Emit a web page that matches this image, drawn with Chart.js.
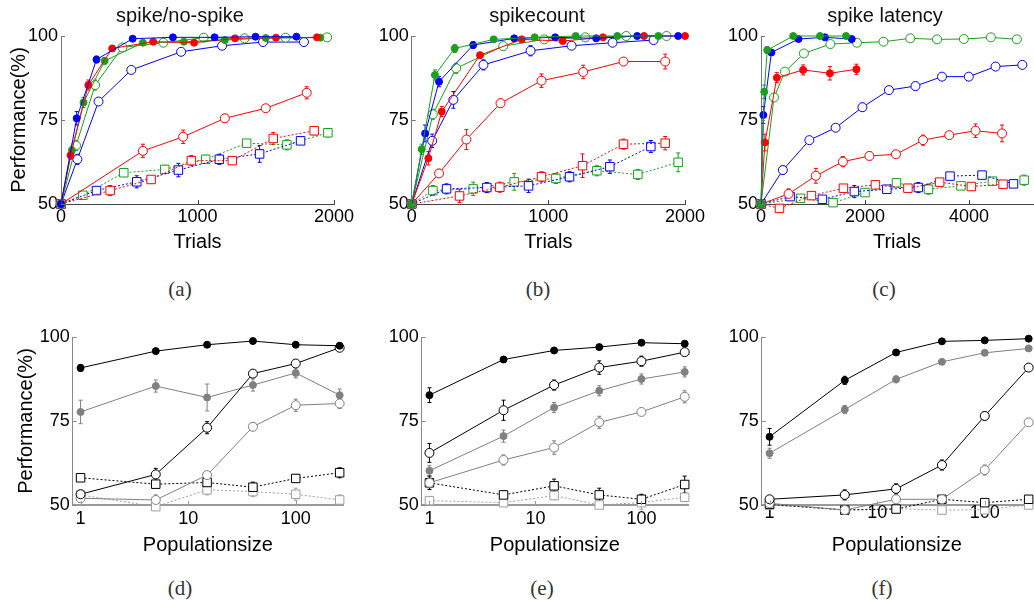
<!DOCTYPE html>
<html><head><meta charset="utf-8">
<script src="https://cdn.jsdelivr.net/npm/chart.js@4.4.1/dist/chart.umd.min.js"></script>
<style>
html,body{margin:0;padding:0;background:#fff;width:1034px;height:600px;overflow:hidden;position:relative;font-family:'Liberation Sans',Arial,sans-serif}
canvas{position:absolute}
.t{position:absolute;transform:translate(-50%,-50%);font-size:20px;line-height:1;white-space:nowrap;color:#111}
.s{position:absolute;transform:translate(-50%,-50%);font-family:'Liberation Serif','DejaVu Serif',serif;font-size:21px;line-height:1;color:#333}
</style></head><body>
<canvas id="ca" width="360" height="254" style="left:0;top:0"></canvas>
<canvas id="cb" width="360" height="254" style="left:350px;top:0"></canvas>
<canvas id="cc" width="340" height="254" style="left:700px;top:0"></canvas>
<canvas id="cd" width="350" height="247" style="left:0;top:310px"></canvas>
<canvas id="ce" width="345" height="247" style="left:350px;top:310px"></canvas>
<canvas id="cf" width="345" height="247" style="left:695px;top:310px"></canvas>
<div class="t" style="left:180px;top:15px">spike/no-spike</div>
<div class="t" style="left:537px;top:15px">spikecount</div>
<div class="t" style="left:885px;top:15px">spike latency</div>
<div class="s" style="left:180px;top:289px">(a)</div>
<div class="s" style="left:538px;top:289px">(b)</div>
<div class="s" style="left:884px;top:289px">(c)</div>
<div class="s" style="left:180px;top:588px">(d)</div>
<div class="s" style="left:542px;top:588px">(e)</div>
<div class="s" style="left:882px;top:588px">(f)</div>
<script>
// ---------- tick labels ----------
const perfTicks = [50, 75, 100];
const trialTicksAB = [0, 1000, 2000];
const trialTicksC = [0, 2000, 4000];
const popTicks = [1, 10, 100];

// ---------- (a) spike/no-spike : [trials, performance, error] ----------
const aBlueFilled  = [[0,50,0],[115,75.5,2],[260,93,1],[525,99.2,0.5],[820,99.6,0.4],[1125,99.6,0.4],[1425,99.8,0.3],[1725,99.8,0.3]];
const aRedFilled   = [[0,50,0],[70,64.5,1.2],[200,85.4,1.5],[375,96.3,0.8],[675,98.3,0.6],[975,98,0.6],[1275,99.3,0.5],[1575,99.5,0.4],[1875,99.6,0.3]];
const aGreenFilled = [[0,50,0],[80,66,1.2],[165,80.2,1.5],[320,92.6,1],[600,98,0.6],[900,98.3,0.5],[1200,98.8,0.4],[1500,99.4,0.3],[1900,99.5,0.3]];
const aGreenOpen   = [[0,50,0],[110,67.4,1.5],[250,85.4,1.5],[450,96.6,1],[750,98,0.6],[1045,99.5,0.4],[1345,99.3,0.4],[1645,99.5,0.3],[1950,99.6,0.3]];
const aBlueOpen    = [[0,50,0],[120,63.3,1.5],[275,80.5,0.8],[515,89.9,0.8],[880,95.3,0.6],[1180,97.1,0.5],[1480,98.2,0.4],[1780,98.2,0.4]];
const aRedOpen     = [[0,50,0],[600,65.8,2],[895,70,2],[1200,75.5,1.2],[1500,78.5,0.8],[1800,83.1,1.8]];
const aRedSq       = [[0,50,0],[360,54,1.5],[660,57.3,0.8],[955,62.9,1.5],[1255,62.9,1],[1555,69.5,1.8],[1855,71.8,1.2]];
const aBlueSq      = [[0,50,0],[260,54,1],[555,56.6,1.8],[860,60.1,2],[1160,63.3,1.5],[1455,64.9,2.5],[1755,68.8,1]];
const aGreenSq     = [[0,50,0],[160,52.6,1],[460,59.3,1],[760,60.3,1.2],[1060,63.3,1.2],[1360,68.1,0.8],[1655,67.6,1.5],[1955,71.2,1.2]];

// ---------- (b) spikecount ----------
const bGreenFilled = [[0,50,0],[73,66.3,1.5],[170,88.4,1.5],[315,96.3,1.2],[600,99,0.5],[900,99.6,0.4],[1200,100,0.3],[1505,100,0.3],[1805,100,0.3]];
const bBlueFilled  = [[0,50,0],[98,71,2.5],[200,86.4,1.5],[450,97.3,1],[750,99.3,0.5],[1050,99.6,0.4],[1350,99.3,0.5],[1650,100,0.3],[1950,100,0.3]];
const bRedFilled   = [[0,50,0],[122,63.6,2],[220,77.5,1.5],[500,94.3,0.8],[805,99,0.5],[1105,98.5,0.5],[1400,99.6,0.3],[1700,100,0.3],[2000,100,0.3]];
const bGreenOpen   = [[0,50,0],[155,76.7,1.5],[325,90.4,1.5],[670,97,0.8],[970,99,0.5],[1270,99.6,0.3],[1570,100,0.3],[1865,100,0.3]];
const bBlueOpen    = [[0,50,0],[150,68.8,2],[305,81,2.5],[525,91.4,1.5],[870,95.6,1.5],[1170,97.1,0.6],[1470,98,0.5],[1770,98.8,0.4]];
const bRedOpen     = [[0,50,0],[200,59.1,1.2],[400,69.2,3],[650,80,1.2],[950,86.7,2],[1255,89.3,2],[1550,92.4,1],[1855,92.4,2.2]];
const bRedSq       = [[0,50,0],[350,52.4,2],[645,55,1.5],[950,58.1,1.5],[1250,61.4,3.5],[1550,67.8,1.5],[1855,68.1,2]];
const bBlueSq      = [[0,50,0],[255,54.5,1.5],[550,54.9,1.5],[855,55.4,2],[1155,58.1,1.5],[1450,61.1,2],[1750,67.1,1.8]];
const bGreenSq     = [[0,50,0],[155,54,1.5],[450,54.5,2],[750,56.6,2.5],[1055,57.6,1.5],[1355,59.9,1.5],[1655,58.8,1.5],[1950,62.4,2.8]];

// ---------- (c) spike latency ----------
const cGreenFilled = [[0,50,0],[62,83.4,2],[120,95.8,1],[620,100,0.3],[1135,100,0.3],[1635,100,0.3]];
const cBlueFilled  = [[0,50,0],[45,76.5,2.5],[200,95.1,0.8],[720,99.1,0.5],[1230,99.6,0.4],[1745,99.1,0.5]];
const cRedFilled   = [[0,50,0],[75,68.3,2.5],[305,87.6,1.5],[810,89.9,1.5],[1325,88.9,2],[1835,90.1,1.5]];
const cGreenOpen   = [[0,50,0],[250,81.7,1],[460,89.4,0.8],[825,94.8,0.6],[1335,97.6,0.5],[1845,98,0.5],[2355,98.3,0.4],[2870,99.3,0.3],[3385,99,0.3],[3900,99.1,0.3],[4420,99.6,0.3],[4920,99,0.3]];
const cBlueOpen    = [[0,50,0],[420,60.1,1.2],[930,69,1],[1435,72.7,1],[1950,78.8,1.2],[2460,83.9,0.6],[2970,85.1,1.2],[3480,87.9,1],[3995,87.9,0.5],[4510,90.9,0.5],[5025,91.4,0.5]];
const cRedOpen     = [[0,50,0],[530,53,1.5],[1055,58.4,2.2],[1575,62.6,1.5],[2085,64.3,1.2],[2595,64.8,1],[3115,69,1.5],[3620,70.5,0.8],[4125,71.8,2],[4635,71,2.5]];
const cRedSq       = [[0,50,0],[355,48.7,1],[970,52.5,1],[1585,54.7,1],[2200,55.7,0.8],[2825,54.7,0.8],[3435,56.5,0.8],[4045,55.2,1],[4655,55.9,1]];
const cBlueSq      = [[0,50,0],[560,52.2,0.8],[1180,51.4,0.5],[1795,53.7,1.8],[2420,54.4,0.8],[3025,54.9,1.5],[3635,58.3,0.5],[4250,58.6,0.5],[4855,56,0.5]];
const cGreenSq     = [[0,50,0],[760,51.7,0.5],[1385,50.4,0.8],[2000,53.4,1],[2605,56.3,0.8],[3220,54.4,1.5],[3845,55.4,0.8],[4450,56.8,0.5],[5060,57.1,1.5]];

// ---------- (d)(e)(f) population size ----------
const popSizes = [1, 5, 15, 40, 100, 256];
const dBlackFilled = [90.8,95.8,97.7,98.8,97.7,97.4], dBlackFilledErr = [1,0.5,0.5,0.5,0.5,0.5];
const dBlackOpen   = [53.2,59.1,73,89.1,92.1,96.8],   dBlackOpenErr   = [1,1.8,1.8,1,0.8,0.5];
const dGrayFilled  = [77.7,85.4,82,85.7,89.3,82.7],   dGrayFilledErr  = [3.5,1.8,4,1.8,1.5,1.8];
const dGrayOpen    = [52,51.5,58.9,73.3,79.7,80.2],   dGrayOpenErr    = [1,1.5,1,1.2,1.8,1.5];
const dBlackSq     = [58.1,56.2,56.7,55.3,57.9,59.6], dBlackSqErr     = [1,1,1.5,1.5,1,1.5];
const dGraySq      = [53,49.5,54.5,54,53.2,51.5],     dGraySqErr      = [1.5,1,1.5,1.5,1.8,1.5];

const eBlackFilled = [82.7,93.3,96,97,98.3,98],       eBlackFilledErr = [2.2,0.8,0.5,0.5,0.4,0.8];
const eBlackOpen   = [65.5,78.2,85.7,90.9,92.8,95.5], eBlackOpenErr   = [2.8,3,1.5,2,1.5,1];
const eGrayFilled  = [60.2,70.5,79,84,87.5,89.6],     eGrayFilledErr  = [1.5,1.8,1.5,1.5,1.5,1.5];
const eGrayOpen    = [56.6,63.4,67.1,74.6,77.7,82.2], eGrayOpenErr    = [1.5,1.5,2,1.8,1,1.8];
const eBlackSq     = [56.6,53,55.7,53,51.7,56.1],     eBlackSqErr     = [2,1.2,2,2,1.5,2.5];
const eGraySq      = [51.3,50.7,52.8,50,50.7,52.3],   eGraySqErr      = [1.2,0.8,1.2,0.8,2,1];

const fBlackFilled = [70.3,87.1,95.4,98.7,99,99.5],   fBlackFilledErr = [2.5,1.2,0.5,0.3,0.3,0.3];
const fGrayFilled  = [65.4,78.4,87.4,92.6,95.3,96.6], fGrayFilledErr  = [1.5,1.2,1,0.5,0.5,0.5];
const fBlackOpen   = [51.7,53,54.8,61.9,76.5,90.9],   fBlackOpenErr   = [1,1.5,1.5,1.5,1.2,0.5];
const fGrayOpen    = [50.5,48.5,51.7,51.7,60.4,74.6], fGrayOpenErr    = [1,1,0.5,0.8,1.5,0.5];
const fBlackSq     = [50.2,48.5,48.8,51.7,50.7,51.7], fBlackSqErr     = [1,1,0.8,1.2,0.8,0.8];
const fGraySq      = [50,48.6,48.9,48.5,48.6,50],     fGraySqErr      = [0.5,0.5,0.5,0.5,0.5,0.5];

// ---------- styling ----------
const BLUE = '#0000ff', RED = '#ff0000', GREEN = '#19a019', BLACK = '#000000', GRAY = '#808080', LGRAY = '#a0a0a0';
const FONT = "'Liberation Sans', Arial, sans-serif";

function series(points, errs, color, kind, dashed) {
  return {
    data: points, errs,
    borderColor: color, borderWidth: 1,
    borderDash: dashed ? [2, 2] : [],
    pointStyle: kind === 'square' ? 'rect' : 'circle',
    pointRadius: kind === 'filled' ? 3.5 : (kind === 'open' ? 4.5 : 6),
    pointHoverRadius: kind === 'filled' ? 3.5 : (kind === 'open' ? 4.5 : 6),
    pointBorderWidth: 1,
    pointBorderColor: color,
    pointBackgroundColor: kind === 'filled' ? color : '#ffffff',
    fill: false, tension: 0, clip: false
  };
}
const fromTriples = (arr, color, kind, dashed) =>
  series(arr.map(r => ({x: r[0], y: r[1]})), arr.map(r => r[2]), color, kind, dashed);
const fromPop = (vals, errs, color, kind, dashed) =>
  series(vals.map((v, i) => ({x: popSizes[i], y: v})), errs, color, kind, dashed);

const errorBars = {
  id: 'errorBars',
  beforeDatasetsDraw(chart) {
    const ctx = chart.ctx, ys = chart.scales.y;
    chart.data.datasets.forEach((ds, i) => {
      if (!ds.errs) return;
      const meta = chart.getDatasetMeta(i);
      ctx.save();
      ctx.strokeStyle = ds.borderColor; ctx.lineWidth = 1;
      meta.data.forEach((pt, j) => {
        const e = ds.errs[j]; if (!e) return;
        const v = ds.data[j].y;
        const y1 = ys.getPixelForValue(v + e), y2 = ys.getPixelForValue(v - e);
        ctx.beginPath();
        ctx.moveTo(pt.x, y1); ctx.lineTo(pt.x, y2);
        ctx.moveTo(pt.x - 2, y1); ctx.lineTo(pt.x + 2, y1);
        ctx.moveTo(pt.x - 2, y2); ctx.lineTo(pt.x + 2, y2);
        ctx.stroke();
      });
      ctx.restore();
    });
  }
};
const inTicks = {
  id: 'inTicks',
  afterDraw(chart, args, opts) {
    const {ctx, chartArea: a, scales: {x, y}} = chart;
    ctx.save(); ctx.lineWidth = 1;
    ctx.strokeStyle = opts.xColor;
    x.ticks.forEach(t => { const p = Math.round(x.getPixelForValue(t.value)) + 0.5; ctx.beginPath(); ctx.moveTo(p, a.bottom); ctx.lineTo(p, a.bottom - 4); ctx.stroke(); });
    ctx.strokeStyle = opts.yColor;
    y.ticks.forEach(t => { const p = Math.round(y.getPixelForValue(t.value)) + 0.5; ctx.beginPath(); ctx.moveTo(a.left, p); ctx.lineTo(a.left + 4, p); ctx.stroke(); });
    ctx.restore();
  }
};

function makeChart(id, c) {
  return new Chart(document.getElementById(id), {
    type: 'line',
    data: {datasets: c.datasets},
    plugins: [errorBars, inTicks],
    options: {
      responsive: false, animation: false, devicePixelRatio: 1, events: [],
      layout: {padding: {left: c.pl, right: c.pr, top: c.pt, bottom: 0}},
      plugins: {legend: {display: false}, tooltip: {enabled: false},
                inTicks: {xColor: c.xBorder, yColor: c.yBorder}},
      scales: {
        x: {
          type: c.xType, min: c.xMin, max: c.xMax,
          afterBuildTicks: s => { s.ticks = c.xTicks.map(v => ({value: v})); },
          afterFit: s => { s.height = c.xH; },
          grid: {display: false, drawTicks: false},
          border: {display: true, color: c.xBorder, width: c.xBorderW},
          ticks: {color: '#000', font: {family: FONT, size: 18}, padding: c.xTickPad, maxRotation: 0, autoSkip: false,
                  callback: v => String(v)},
          title: {display: true, text: c.xTitle, color: '#000', font: {family: FONT, size: 20}, padding: 0}
        },
        y: {
          type: 'linear', min: 50, max: 100,
          afterBuildTicks: s => { s.ticks = perfTicks.map(v => ({value: v})); },
          afterFit: s => { s.width = c.yW; },
          grid: {display: false, drawTicks: false},
          border: {display: true, color: c.yBorder, width: 1},
          ticks: {color: '#000', font: {family: FONT, size: 18}, padding: 3, callback: v => String(v)},
          title: {display: !!c.yTitle, text: c.yTitle || '', color: '#000', font: {family: FONT, size: 20}, padding: 0}
        }
      }
    }
  });
}

const topCommon = {xType: 'linear', xMin: 0, xH: 50, pt: 36, xBorder: '#444', yBorder: '#777', xBorderW: 1, xTickPad: 2, xTitle: 'Trials'};
const botCommon = {xType: 'logarithmic', xMin: 0.845, xMax: 275, xTicks: popTicks, xH: 52, pt: 27, xBorder: '#9a9a9a', yBorder: '#8a8a8a', xBorderW: 2, xTitle: 'Populationsize'};

makeChart('ca', Object.assign({}, topCommon, {
  xMax: 2000, xTicks: trialTicksAB, pl: 7, yW: 54, pr: 26, yTitle: 'Performance(%)',
  datasets: [
    fromTriples(aBlueFilled, BLUE, 'filled'), fromTriples(aRedFilled, RED, 'filled'), fromTriples(aGreenFilled, GREEN, 'filled'),
    fromTriples(aGreenOpen, GREEN, 'open'), fromTriples(aBlueOpen, BLUE, 'open'), fromTriples(aRedOpen, RED, 'open'),
    fromTriples(aRedSq, RED, 'square', true), fromTriples(aBlueSq, BLUE, 'square', true), fromTriples(aGreenSq, GREEN, 'square', true)
  ]}));
makeChart('cb', Object.assign({}, topCommon, {
  xMax: 2000, xTicks: trialTicksAB, pl: 0, yW: 61.7, pr: 25,
  datasets: [
    fromTriples(bGreenFilled, GREEN, 'filled'), fromTriples(bBlueFilled, BLUE, 'filled'), fromTriples(bRedFilled, RED, 'filled'),
    fromTriples(bGreenOpen, GREEN, 'open'), fromTriples(bBlueOpen, BLUE, 'open'), fromTriples(bRedOpen, RED, 'open'),
    fromTriples(bRedSq, RED, 'square', true), fromTriples(bBlueSq, BLUE, 'square', true), fromTriples(bGreenSq, GREEN, 'square', true)
  ]}));
makeChart('cc', Object.assign({}, topCommon, {
  xMax: 5230, xTicks: trialTicksC, pl: 0, yW: 61, pr: 0,
  datasets: [
    fromTriples(cGreenFilled, GREEN, 'filled'), fromTriples(cBlueFilled, BLUE, 'filled'), fromTriples(cRedFilled, RED, 'filled'),
    fromTriples(cGreenOpen, GREEN, 'open'), fromTriples(cBlueOpen, BLUE, 'open'), fromTriples(cRedOpen, RED, 'open'),
    fromTriples(cRedSq, RED, 'square', true), fromTriples(cBlueSq, BLUE, 'square', true), fromTriples(cGreenSq, GREEN, 'square', true)
  ]}));
makeChart('cd', Object.assign({}, botCommon, {
  pl: 14, yW: 58.7, pr: 7, xTickPad: 3, yTitle: 'Performance(%)',
  datasets: [
    fromPop(dBlackFilled, dBlackFilledErr, BLACK, 'filled'), fromPop(dBlackOpen, dBlackOpenErr, BLACK, 'open'),
    fromPop(dGrayFilled, dGrayFilledErr, GRAY, 'filled'), fromPop(dGrayOpen, dGrayOpenErr, GRAY, 'open'),
    fromPop(dBlackSq, dBlackSqErr, BLACK, 'square', true), fromPop(dGraySq, dGraySqErr, LGRAY, 'square', true)
  ]}));
makeChart('ce', Object.assign({}, botCommon, {
  pl: 0, yW: 71.7, pr: 3, xTickPad: 3,
  datasets: [
    fromPop(eBlackFilled, eBlackFilledErr, BLACK, 'filled'), fromPop(eBlackOpen, eBlackOpenErr, BLACK, 'open'),
    fromPop(eGrayFilled, eGrayFilledErr, GRAY, 'filled'), fromPop(eGrayOpen, eGrayOpenErr, GRAY, 'open'),
    fromPop(eBlackSq, eBlackSqErr, BLACK, 'square', true), fromPop(eGraySq, eGraySqErr, LGRAY, 'square', true)
  ]}));
makeChart('cf', Object.assign({}, botCommon, {
  pl: 0, yW: 66.7, pr: 8, xTickPad: -3,
  datasets: [
    fromPop(fBlackFilled, fBlackFilledErr, BLACK, 'filled'), fromPop(fBlackOpen, fBlackOpenErr, BLACK, 'open'),
    fromPop(fGrayFilled, fGrayFilledErr, GRAY, 'filled'), fromPop(fGrayOpen, fGrayOpenErr, GRAY, 'open'),
    fromPop(fBlackSq, fBlackSqErr, BLACK, 'square', true), fromPop(fGraySq, fGraySqErr, LGRAY, 'square', true)
  ]}));
</script>
</body></html>
